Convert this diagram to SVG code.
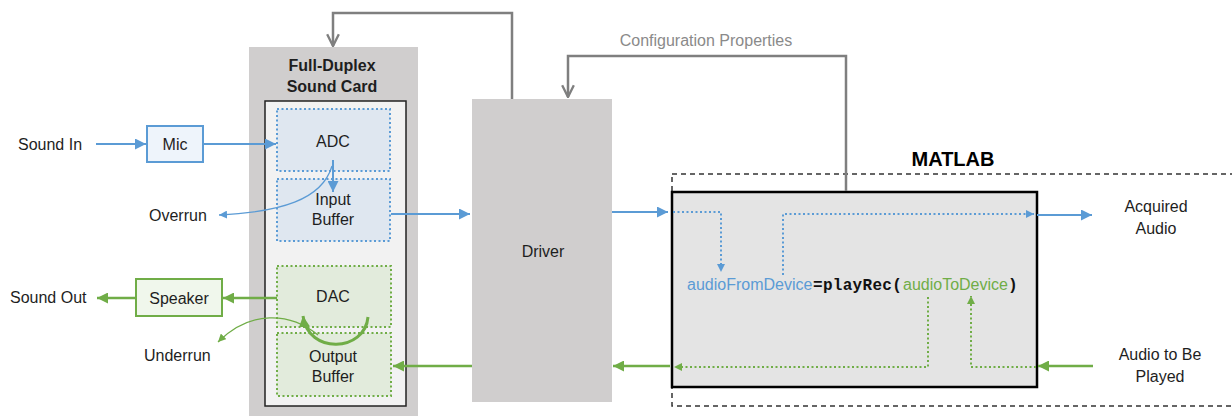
<svg xmlns="http://www.w3.org/2000/svg" width="1232" height="416" viewBox="0 0 1232 416">
<style>
text{font-family:"Liberation Sans",Arial,sans-serif;font-size:16px;fill:#1e1e1e}
.c{text-anchor:middle}
.b{font-weight:bold}
.mono{font-family:"Liberation Mono","DejaVu Sans Mono",monospace;font-weight:bold;fill:#111;letter-spacing:0.3px}
.blue{stroke:#5b9bd5;fill:none}
.green{stroke:#70ad47;fill:none}
.gray{stroke:#7f7f7f;fill:none;stroke-width:2.5}
.dot{stroke-dasharray:2 2.5;stroke-width:2}
</style>
<defs>
<marker id="ab" viewBox="0 0 10 10" refX="10" refY="5" markerWidth="11" markerHeight="11" markerUnits="userSpaceOnUse" orient="auto"><path d="M0,0 L10,5 L0,10 z" fill="#5b9bd5"/></marker>
<marker id="ag" viewBox="0 0 10 10" refX="10" refY="5" markerWidth="11" markerHeight="11" markerUnits="userSpaceOnUse" orient="auto"><path d="M0,0 L10,5 L0,10 z" fill="#70ad47"/></marker>
<marker id="abs" viewBox="0 0 10 10" refX="10" refY="5" markerWidth="8" markerHeight="8" markerUnits="userSpaceOnUse" orient="auto"><path d="M0,0 L10,5 L0,10 z" fill="#5b9bd5"/></marker>
<marker id="ags" viewBox="0 0 10 10" refX="10" refY="5" markerWidth="8" markerHeight="8" markerUnits="userSpaceOnUse" orient="auto"><path d="M0,0 L10,5 L0,10 z" fill="#70ad47"/></marker>
<marker id="chev" viewBox="0 0 12 12" refX="11" refY="6" markerWidth="14" markerHeight="14" markerUnits="userSpaceOnUse" orient="auto"><path d="M1,1 L11,6 L1,11" fill="none" stroke="#7f7f7f" stroke-width="2"/></marker>
</defs>

<g id="matlab">
<rect x="672" y="174" width="600" height="232" fill="none" stroke="#333" stroke-width="1.5" stroke-dasharray="5 4"/>
<text class="b" x="953" y="166" style="font-size:20px;fill:#000" text-anchor="middle">MATLAB</text>
<rect x="672" y="192" width="365" height="195" fill="#e4e4e4" stroke="#000" stroke-width="2.5"/>
<text x="687" y="290" style="fill:#5b9bd5">audioFromDevice</text>
<text class="mono" x="813" y="290">=playRec(</text>
<text x="903" y="290" style="fill:#70ad47">audioToDevice</text>
<text class="mono" x="1008" y="290">)</text>
</g>

<g id="soundcard">
<rect x="249" y="47" width="169" height="380" fill="#d0cece"/>
<text class="c b" x="332" y="71">Full-Duplex</text>
<text class="c b" x="332" y="92">Sound Card</text>
<rect x="265" y="101" width="141" height="305" fill="#f2f2f2" stroke="#222" stroke-width="1.5"/>
</g>
<g id="adc">
<rect x="277" y="109" width="113" height="62" fill="#dfe7f0" stroke="#5b9bd5" class="dot"/>
<text class="c" x="333" y="147">ADC</text>
</g>
<g id="inputbuffer">
<rect x="277" y="179" width="113" height="62" fill="#dfe7f0" stroke="#5b9bd5" class="dot"/>
<text class="c" x="333" y="205">Input</text>
<text class="c" x="333" y="225">Buffer</text>
</g>
<g id="dac">
<rect x="277" y="266" width="114" height="61" fill="#e2ebdc" stroke="#70ad47" class="dot"/>
<text class="c" x="333" y="302">DAC</text>
</g>
<g id="outputbuffer">
<rect x="277" y="333" width="114" height="63" fill="#e2ebdc" stroke="#70ad47" class="dot"/>
<text class="c" x="333" y="362">Output</text>
<text class="c" x="333" y="382">Buffer</text>
</g>

<g id="driver">
<rect x="472" y="99" width="140" height="303" fill="#d0cece"/>
<text class="c" x="543" y="257">Driver</text>
</g>

<g id="mic">
<rect x="147" y="126" width="56" height="36" fill="#eef4fb" stroke="#5b9bd5" stroke-width="2"/>
<text class="c" x="175" y="150">Mic</text>
</g>
<g id="speaker">
<rect x="136" y="279" width="86" height="37" fill="#f0f7ec" stroke="#70ad47" stroke-width="2"/>
<text class="c" x="179" y="304">Speaker</text>
</g>

<g id="labels">
<text x="18" y="150">Sound In</text>
<text x="10" y="303">Sound Out</text>
<text x="149" y="221">Overrun</text>
<text x="144" y="361">Underrun</text>
<text class="c" x="1156" y="212">Acquired</text>
<text class="c" x="1156" y="234">Audio</text>
<text class="c" x="1160" y="360">Audio to Be</text>
<text class="c" x="1160" y="382">Played</text>
<text class="c" x="706" y="46" style="fill:#8a8a8a">Configuration Properties</text>
</g>

<g id="connectors">
<path class="blue" stroke-width="2" d="M96 144 H146" marker-end="url(#ab)"/>
<path class="blue" stroke-width="2" d="M204 144 H276" marker-end="url(#ab)"/>
<path class="blue" stroke-width="2" d="M333 160 V192" marker-end="url(#ab)"/>
<path class="blue" stroke-width="1.3" d="M332 166 C322 200 280 212 219 215" marker-end="url(#abs)"/>
<path class="blue" stroke-width="2" d="M391 214 H470" marker-end="url(#ab)"/>
<path class="blue" stroke-width="2" d="M612 212 H668" marker-end="url(#ab)"/>
<path class="blue dot" d="M673 212 H721 V272" marker-end="url(#abs)"/>
<path class="blue dot" d="M783 275 V214 H1034" marker-end="url(#abs)"/>
<path class="blue" stroke-width="2" d="M1037 215 H1092" marker-end="url(#ab)"/>
<path class="green" stroke-width="2.5" d="M1093 366 H1038" marker-end="url(#ag)"/>
<path class="green dot" d="M1036 367 H971 V296" marker-end="url(#ags)"/>
<path class="green dot" d="M928 297 V367 H674" marker-end="url(#ags)"/>
<path class="green" stroke-width="2.5" d="M670 366 H613" marker-end="url(#ag)"/>
<path class="green" stroke-width="2.5" d="M472 366 H393" marker-end="url(#ag)"/>
<path class="green" stroke-width="2.5" d="M277 298 H223" marker-end="url(#ag)"/>
<path class="green" stroke-width="2.5" d="M136 298 H97" marker-end="url(#ag)"/>
<path class="green" stroke-width="3" d="M368 317 C365 352 308 355 303 316" marker-end="url(#ag)"/>
<path class="green" stroke-width="1.3" d="M318 335 C290 312 250 310 218 342" marker-end="url(#ags)"/>
<path class="gray" d="M512 99 V13 H333 V46" marker-end="url(#chev)"/>
<path class="gray" d="M846 191 V56 H568 V97" marker-end="url(#chev)"/>
</g>
</svg>
